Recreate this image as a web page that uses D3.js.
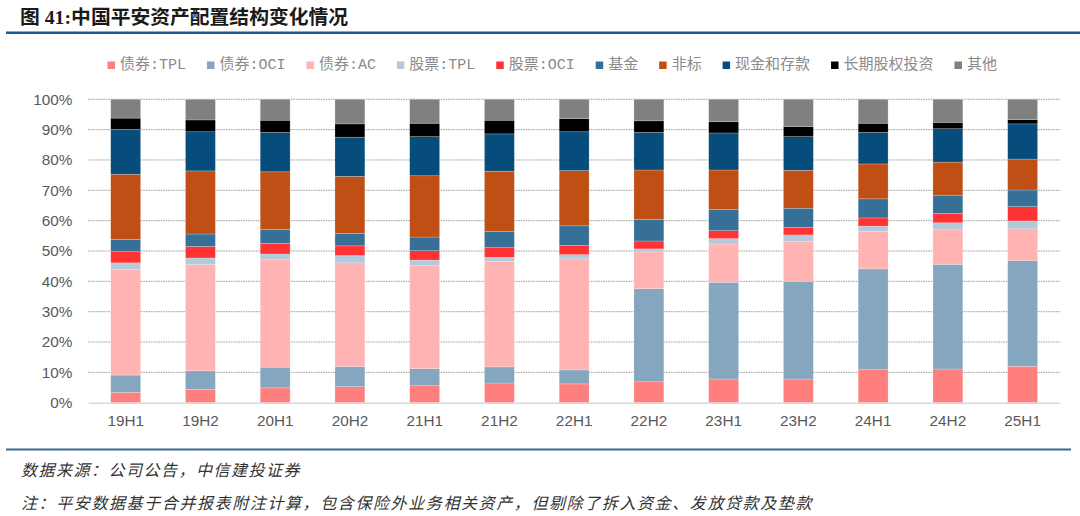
<!DOCTYPE html>
<html>
<head>
<meta charset="utf-8">
<script src="https://cdn.jsdelivr.net/npm/d3@7/dist/d3.min.js"></script>
<style>
  html, body { margin: 0; padding: 0; background: #fff; }
  svg { display: block; }
</style>
</head>
<body>
<svg id="chart" width="1080" height="516"></svg>
<script>
// ---------------- DATA ----------------
const categories = ["19H1","19H2","20H1","20H2","21H1","21H2","22H1","22H2","23H1","23H2","24H1","24H2","25H1"];
const seriesNames = ["债券:TPL","债券:OCI","债券:AC","股票:TPL","股票:OCI","基金","非标","现金和存款","长期股权投资","其他"];
const seriesColors = ["#FF7F7F","#84A6BF","#FFB3B3","#B4C9DA","#FF3333","#367097","#BF4F14","#064D7C","#000000","#808080"];

const bondTPL   = [3.4, 4.4, 4.9, 5.3, 5.6, 6.5, 6.2, 6.9, 7.8, 7.8, 10.9, 11.1, 12.0];
const bondOCI   = [5.7, 6.1, 6.8, 6.6, 5.6, 5.3, 4.6, 30.7, 31.9, 32.2, 33.2, 34.5, 34.8];
const bondAC    = [34.9, 35.0, 35.4, 34.2, 34.0, 34.7, 36.6, 12.1, 12.6, 13.1, 12.3, 11.4, 10.5];
const stockTPL  = [2.1, 2.2, 1.9, 2.4, 1.8, 1.4, 1.4, 1.0, 1.8, 2.2, 1.8, 2.3, 2.6];
const stockOCI  = [3.7, 3.8, 3.5, 3.2, 3.1, 3.2, 3.1, 2.6, 2.6, 2.5, 2.7, 3.1, 4.7];
const funds     = [4.0, 4.1, 4.6, 4.1, 4.5, 5.4, 6.4, 7.1, 7.0, 6.3, 6.3, 6.0, 5.5];
const nonStd    = [21.5, 20.8, 19.0, 18.8, 20.2, 19.8, 18.2, 16.3, 13.0, 12.5, 11.5, 10.9, 10.2];
const cashDep   = [14.8, 12.9, 13.0, 12.9, 12.9, 12.3, 12.8, 12.4, 12.2, 11.1, 10.4, 11.0, 11.6];
const ltEquity  = [3.7, 3.9, 4.0, 4.4, 4.4, 4.5, 4.3, 3.8, 3.7, 3.3, 3.0, 2.1, 1.4];
const others    = [6.2, 6.8, 6.9, 8.1, 7.9, 6.9, 6.4, 7.1, 7.4, 9.0, 7.9, 7.6, 6.7];

const yTicks = [0,10,20,30,40,50,60,70,80,90,100];

const titleText = "图 41:中国平安资产配置结构变化情况";
const sourceText = "数据来源：公司公告，中信建投证券";
const noteText = "注：平安数据基于合并报表附注计算，包含保险外业务相关资产，但剔除了拆入资金、发放贷款及垫款";

// ---------------- BUILD TABLE ----------------
const seriesValues = [bondTPL, bondOCI, bondAC, stockTPL, stockOCI, funds, nonStd, cashDep, ltEquity, others];
const table = categories.map((c, i) => {
  const row = { cat: c };
  seriesNames.forEach((s, k) => row[s] = seriesValues[k][i]);
  return row;
});

// ---------------- LAYOUT ----------------
const svg = d3.select("#chart");
const plot = { left: 88.3, right: 1060, top: 99.3, bottom: 402.7 };

const x = d3.scaleBand().domain(categories).range([plot.left, plot.right]).paddingInner(0.6).paddingOuter(0.3);
const y = d3.scaleLinear().domain([0, 100]).range([plot.bottom, plot.top]);
const color = d3.scaleOrdinal().domain(seriesNames).range(seriesColors);

// Title
svg.append("text")
  .attr("x", 20).attr("y", 23.5)
  .attr("font-family", '"Liberation Serif", "Noto Sans CJK SC", serif')
  .attr("font-weight", "bold")
  .attr("font-size", 19.8)
  .attr("fill", "#1a1a1a")
  .text(titleText);

svg.append("line")
  .attr("x1", 6).attr("x2", 1080).attr("y1", 32.7).attr("y2", 32.7)
  .attr("stroke", "#1F5A8C").attr("stroke-width", 2.6);

// Y axis labels
const yAxis = d3.axisLeft(y).tickValues(yTicks).tickFormat(d => d + "%").tickSize(0).tickPadding(16);
svg.append("g")
  .attr("transform", `translate(${plot.left},0)`)
  .call(yAxis)
  .call(g => g.select(".domain").remove())
  .call(g => g.selectAll("text")
      .attr("font-family", '"Liberation Sans", Arial, sans-serif')
      .attr("font-size", 15.3)
      .attr("fill", "#595959"));

// Gridlines
svg.append("g")
  .selectAll("line")
  .data(yTicks.filter(d => d > 0))
  .join("line")
  .attr("x1", plot.left).attr("x2", plot.right)
  .attr("y1", d => y(d)).attr("y2", d => y(d))
  .attr("stroke", "#9a9a9a").attr("stroke-width", 1)
  .attr("stroke-dasharray", "1.5 1");

// Stacked bars
const stack = d3.stack().keys(seriesNames);
const stacked = stack(table);

svg.append("g")
  .selectAll("g")
  .data(stacked)
  .join("g")
  .attr("fill", d => color(d.key))
  .selectAll("rect")
  .data(d => d)
  .join("rect")
  .attr("x", d => x(d.data.cat))
  .attr("width", x.bandwidth())
  .attr("y", d => y(d[1]))
  .attr("height", d => y(d[0]) - y(d[1]))
  .attr("stroke", "#ffffff")
  .attr("stroke-opacity", 0.35)
  .attr("stroke-width", 0.6);

// X axis
const xAxis = d3.axisBottom(x).tickSize(0).tickPadding(12);
svg.append("g")
  .attr("transform", `translate(0,${plot.bottom})`)
  .call(xAxis)
  .call(g => g.select(".domain").attr("stroke", "#D9D9D9").attr("stroke-width", 1.6))
  .call(g => g.selectAll("text")
      .attr("font-family", '"Liberation Sans", Arial, sans-serif')
      .attr("font-size", 15.3)
      .attr("fill", "#595959"));

// Legend
const legend = svg.append("g");
const legendItems = legend.selectAll("g").data(seriesNames).join("g");
legendItems.append("rect")
  .attr("width", 7.5).attr("height", 7.5)
  .attr("y", 61.5)
  .attr("fill", d => color(d));
legendItems.append("text")
  .attr("x", 12.5).attr("y", 65.5)
  .attr("dominant-baseline", "central")
  .attr("font-family", '"Liberation Mono", "Noto Sans CJK SC", monospace')
  .attr("font-size", 15)
  .attr("fill", "#8a8a8a")
  .text(d => d);

const widths = [];
legendItems.each(function() {
  widths.push(12.5 + d3.select(this).select("text").node().getComputedTextLength());
});
const legStart = 107.5, legEnd = 997;
const totalW = d3.sum(widths);
const gap = (legEnd - legStart - totalW) / (seriesNames.length - 1);
let cx = legStart;
legendItems.each(function(d, i) {
  d3.select(this).attr("transform", `translate(${cx},0)`);
  cx += widths[i] + gap;
});

// Footer
svg.append("line")
  .attr("x1", 6).attr("x2", 1071).attr("y1", 449.5).attr("y2", 449.5)
  .attr("stroke", "#3A6B96").attr("stroke-width", 1.8);

svg.append("text")
  .attr("x", 21).attr("y", 476)
  .attr("font-family", '"Noto Sans CJK SC", sans-serif')
  .attr("font-style", "italic")
  .attr("font-size", 16)
  .attr("letter-spacing", 1.5)
  .attr("fill", "#333")
  .text(sourceText);

svg.append("text")
  .attr("x", 21).attr("y", 509)
  .attr("font-family", '"Noto Sans CJK SC", sans-serif')
  .attr("font-style", "italic")
  .attr("font-size", 16)
  .attr("letter-spacing", 1.6)
  .attr("fill", "#333")
  .text(noteText);
</script>
</body>
</html>
